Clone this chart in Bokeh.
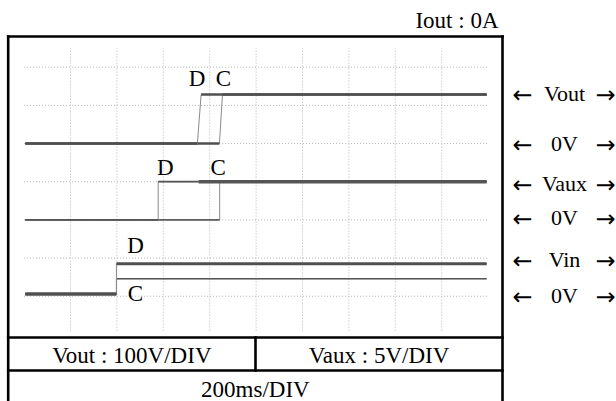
from bokeh.plotting import figure
from bokeh.models import Range1d, ColumnDataSource
from bokeh.core.properties import value
from bokeh.embed import file_html
from bokeh.resources import INLINE

# ---- data -------------------------------------------------------------
# horizontal scale: 200 ms per division, 10 divisions across the screen
MS_PER_DIV = 200
N_XDIV = 10
N_YGRID = 7

# 0 V marker of each channel, in screen divisions above the graticule bottom
vout_zero = 5.0
vaux_zero = 3.0
vin_zero = 1.06

# step traces: time (ms) and level (divisions above the channel's 0 V)
vout_d_t = [5, 747, 763, 1994]
vout_d_v = [0.0, 0.0, 1.285, 1.285]
vout_c_t = [5, 842, 855, 1994]
vout_c_v = [0.0, 0.0, 1.285, 1.285]

vaux_d_t = [5, 578, 578, 752, 1994]
vaux_d_v = [0.0, 0.0, 1.0, 1.0, 1.0]
vaux_c_t = [5, 843, 843, 1994]
vaux_c_v = [0.0, 0.0, 1.0, 1.0]

vin_d_t = [5, 398, 398, 1994]
vin_d_v = [0.0, 0.0, 0.79, 0.79]
vin_c_t = [5, 398, 398, 1994]
vin_c_v = [0.0, 0.0, 0.40, 0.40]

# D / C markers: (time ms, level div)
mark_text = ["D", "C", "D", "C", "D", "C"]
mark_t = [746, 859, 609, 837, 480, 480]
mark_y = [6.71, 6.71, 4.37, 4.37, 2.33, 1.08]

side_words = ["Vout", "0V", "Vaux", "0V", "Vin", "0V"]
title_text = "Iout : 0A"
scale_texts = ["Vout : 100V/DIV", "Vaux : 5V/DIV"]
time_text = "200ms/DIV"

# ---- layout (screen pixels) ---------------------------------------------
W, H = 616, 401
GX0, GPX = 23.6, 46.4          # graticule left edge and px per x division
GY0, GPY = 333.9, 38.17        # graticule bottom and px per y division

FONT = value("Liberation Serif")
ARROW_FONT = value("DejaVu Sans")

p = figure(width=W, height=H, output_backend="svg", toolbar_location=None,
           x_range=Range1d(0, W), y_range=Range1d(H, 0),
           x_axis_type=None, y_axis_type=None, min_border=0)
p.outline_line_color = None
p.grid.visible = False
p.background_fill_color = "white"

ms_per_px = MS_PER_DIV / GPX
p.extra_x_ranges = {"ms": Range1d(-GX0 * ms_per_px, (W - GX0) * ms_per_px)}
p.extra_y_ranges = {"div": Range1d((GY0 - H) / GPY, GY0 / GPY)}

# graticule: dotted lines
hx0 = [0] * N_YGRID
hx1 = [MS_PER_DIV * N_XDIV] * N_YGRID
hy = list(range(1, N_YGRID + 1))
p.segment(x0=hx0, y0=hy, x1=hx1, y1=hy, x_range_name="ms", y_range_name="div",
          line_color="#b4b4b4", line_width=1, line_dash="1 2")
vx = [MS_PER_DIV * k for k in range(1, N_XDIV)]
p.segment(x0=vx, y0=[0.1] * len(vx), x1=vx, y1=[7.5] * len(vx),
          x_range_name="ms", y_range_name="div",
          line_color="#b4b4b4", line_width=1, line_dash="1 2")


def draw_trace(t, v, zero, widths, color="#4f4f4f"):
    ys = [zero + a for a in v]
    # transitions drawn thin
    p.line(t, ys, x_range_name="ms", y_range_name="div",
           line_color="#8a8a8a", line_width=1)
    flats = [i for i in range(len(t) - 1) if ys[i] == ys[i + 1]]
    src = ColumnDataSource(dict(
        x0=[t[i] for i in flats], x1=[t[i + 1] for i in flats],
        y=[ys[i] for i in flats], w=widths))
    p.segment(x0="x0", y0="y", x1="x1", y1="y", source=src,
              x_range_name="ms", y_range_name="div",
              line_color=color, line_width="w", line_cap="butt")


draw_trace(vout_c_t, vout_c_v, vout_zero, [2.6, 2.6])
draw_trace(vout_d_t, vout_d_v, vout_zero, [2.6, 2.6])
draw_trace(vaux_c_t, vaux_c_v, vaux_zero, [1.8, 1.8], "#606060")
draw_trace(vaux_d_t, vaux_d_v, vaux_zero, [1.8, 1.8, 3.4], "#555555")
draw_trace(vin_c_t, vin_c_v, vin_zero, [3.0, 1.5], "#555555")
draw_trace(vin_d_t, vin_d_v, vin_zero, [3.0, 3.0])

p.text(x=mark_t, y=mark_y, text=mark_text, x_range_name="ms", y_range_name="div",
       text_font=FONT, text_font_size="23px", text_color="black",
       text_align="center", text_baseline="middle")

# frame and table lines
L, R, T = 7.7, 502, 36
r1, r2, mid = 337, 370, 255
p.segment(x0=[L, L, R, L, L, mid], y0=[T, T, T, r1, r2, r1],
          x1=[R, L, R, R, R, mid], y1=[T, H + 5, H + 5, r1, r2, r2],
          line_color="black", line_width=2.6, line_cap="square")

p.text(x=[498], y=[19.5], text=[title_text], text_font=FONT, text_font_size="23px",
       text_align="right", text_baseline="middle", text_color="black")
p.text(x=[(L + mid) / 2, (mid + R) / 2], y=[354.5, 354.5], text=scale_texts,
       text_font=FONT, text_font_size="23px", text_align="center",
       text_baseline="middle", text_color="black")
p.text(x=[(L + R) / 2], y=[389], text=[time_text], text_font=FONT,
       text_font_size="23px", text_align="center", text_baseline="middle",
       text_color="black")

# channel markers at the right side
side_y = [92.5, 143.3, 182.5, 216.7, 259, 295.3]
n = len(side_words)
p.text(x=[564] * n, y=side_y, text=side_words, text_font=FONT,
       text_font_size="22px", text_align="center", text_baseline="middle",
       text_color="black")
p.text(x=[522] * n, y=[y + 1.5 for y in side_y], text=["\u2190"] * n,
       text_font=ARROW_FONT, text_font_size="24px", text_align="center",
       text_baseline="middle", text_color="black")
p.text(x=[605] * n, y=[y + 1.5 for y in side_y], text=["\u2192"] * n,
       text_font=ARROW_FONT, text_font_size="24px", text_align="center",
       text_baseline="middle", text_color="black")

open("out.html", "w").write(file_html(p, INLINE))
